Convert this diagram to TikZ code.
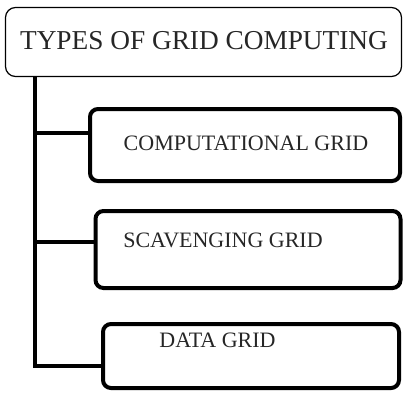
\documentclass[tikz,border=0pt]{standalone}
\usepackage{fontspec}
\setmainfont{Liberation Serif}
\begin{document}
\begin{tikzpicture}[x=1pt,y=-1pt,
  topbox/.style={draw=black, line width=1.2pt, rounded corners=10pt, minimum width=396pt, minimum height=69pt, inner sep=0pt},
  subbox/.style={draw=black, line width=4pt, rounded corners=8pt, inner sep=0pt},
  toptext/.style={font=\fontsize{27.3}{30}\selectfont, text=black!85, inner sep=0pt},
  subtext/.style={font=\fontsize{22}{24}\selectfont, text=black!85, inner sep=0pt},
  conn/.style={draw=black, line width=4pt}]
\useasboundingbox (0,0) rectangle (403,392);
\node[topbox] (top) at (203.5,42) {};
\node[toptext] (toptxt) at (204,41) {TYPES OF GRID COMPUTING};
\node[subbox, minimum width=310pt, minimum height=72pt] (comp) at (245,145) {};
\node[subtext] (comptxt) at (246,143) {COMPUTATIONAL GRID};
\node[subbox, minimum width=305pt, minimum height=77pt] (scav) at (248,249.5) {};
\node[subtext] (scavtxt) at (223,240) {SCAVENGING GRID};
\node[subbox, minimum width=296pt, minimum height=64pt] (data) at (251,356) {};
\node[subtext] (datatxt) at (217.5,340) {DATA GRID};
\coordinate (t1) at (35,133);
\coordinate (t2) at (35,242);
\coordinate (t3) at (35,366);
\draw[conn] (t3 |- top.south) -- (t3) -- (t3 -| data.west);
\draw[conn] (t1) -- (t1 -| comp.west);
\draw[conn] (t2) -- (t2 -| scav.west);
\end{tikzpicture}
\end{document}
